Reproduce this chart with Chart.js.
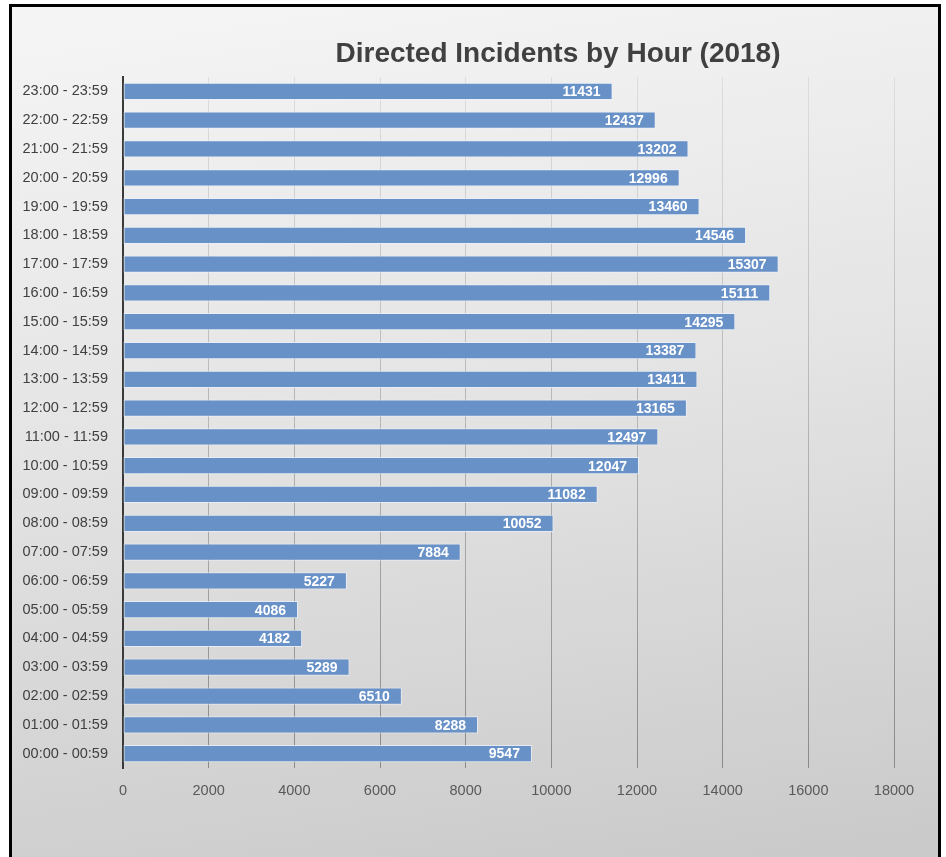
<!DOCTYPE html>
<html>
<head>
<meta charset="utf-8">
<title>Directed Incidents by Hour (2018)</title>
<script src="https://cdn.jsdelivr.net/npm/chart.js@4.4.1/dist/chart.umd.min.js"></script>
<style>
  html, body { margin: 0; padding: 0; overflow: hidden; background: #fff; }
  #frame {
    position: absolute; left: 9px; top: 4px; width: 932px; height: 880px;
    box-sizing: border-box; border: 3px solid #000;
    background: linear-gradient(172deg, #f5f5f5 0%, #e4e4e4 45%, #c8c8c8 100%);
  }
  #wrap { position: absolute; left: 0; top: 0; width: 946px; height: 857px; }
</style>
</head>
<body>
<div id="frame"></div>
<div id="wrap"><canvas id="chart" role="img" aria-label="Directed Incidents by Hour (2018)"></canvas></div>
<script>
const hours = [
  '00:00 - 00:59', '01:00 - 01:59', '02:00 - 02:59', '03:00 - 03:59',
  '04:00 - 04:59', '05:00 - 05:59', '06:00 - 06:59', '07:00 - 07:59',
  '08:00 - 08:59', '09:00 - 09:59', '10:00 - 10:59', '11:00 - 11:59',
  '12:00 - 12:59', '13:00 - 13:59', '14:00 - 14:59', '15:00 - 15:59',
  '16:00 - 16:59', '17:00 - 17:59', '18:00 - 18:59', '19:00 - 19:59',
  '20:00 - 20:59', '21:00 - 21:59', '22:00 - 22:59', '23:00 - 23:59'
];
const incidents = [
  9547, 8288, 6510, 5289, 4182, 4086, 5227, 7884,
  10052, 11082, 12047, 12497, 13165, 13411, 13387, 14295,
  15111, 15307, 14546, 13460, 12996, 13202, 12437, 11431
];
const xTicks = [0, 2000, 4000, 6000, 8000, 10000, 12000, 14000, 16000, 18000];
const chartTitle = 'Directed Incidents by Hour (2018)';

const FONT = '"Liberation Sans", Arial, sans-serif';

// white value labels at the inner end of each bar
const barLabels = {
  id: 'barLabels',
  afterDatasetsDraw(chart) {
    const { ctx } = chart;
    const meta = chart.getDatasetMeta(0);
    ctx.save();
    ctx.font = 'bold 14px ' + FONT;
    ctx.fillStyle = '#ffffff';
    ctx.textAlign = 'right';
    ctx.textBaseline = 'middle';
    meta.data.forEach((bar, i) => {
      ctx.fillText(String(chart.data.datasets[0].data[i]), bar.x - 12, bar.y + 1);
    });
    ctx.restore();
  }
};

const titlePlugin = {
  id: 'customTitle',
  afterDraw(chart) {
    const { ctx } = chart;
    ctx.save();
    ctx.font = 'bold 28px ' + FONT;
    ctx.fillStyle = '#404040';
    ctx.textAlign = 'center';
    ctx.textBaseline = 'alphabetic';
    ctx.fillText(chartTitle, 558, 62);
    ctx.restore();
  }
};

function gridGradient(context) {
  const chart = context.chart;
  const area = chart.chartArea;
  if (!area) return '#b0b0b0';
  const g = chart.ctx.createLinearGradient(0, area.top, 0, area.bottom);
  g.addColorStop(0, '#dedede');
  g.addColorStop(1, '#8a8a8a');
  return g;
}

new Chart(document.getElementById('chart'), {
  type: 'bar',
  data: {
    labels: hours,
    datasets: [{
      label: 'Incidents',
      data: incidents,
      backgroundColor: '#6891c8',
      borderColor: 'rgba(235,242,252,0.75)',
      borderWidth: 1,
      borderSkipped: false,
      barPercentage: 0.6,
      categoryPercentage: 1
    }]
  },
  options: {
    indexAxis: 'y',
    responsive: true,
    maintainAspectRatio: false,
    animation: false,
    layout: { padding: { left: 0, right: 52, top: 77, bottom: 0 } },
    plugins: {
      legend: { display: false },
      title: { display: false },
      tooltip: { enabled: false }
    },
    scales: {
      x: {
        min: 0,
        max: 18000,
        afterBuildTicks(scale) { scale.ticks = xTicks.map(v => ({ value: v })); },
        afterFit(scale) { scale.height = 89; },
        ticks: {
          color: '#595959',
          font: { family: FONT, size: 14.5 },
          padding: 14,
          callback: v => String(v)
        },
        grid: { color: gridGradient, lineWidth: 1, drawTicks: false },
        border: { display: false }
      },
      y: {
        reverse: true,
        afterFit(scale) { scale.width = 123; },
        ticks: { color: '#404040', font: { family: FONT, size: 14.5 }, padding: 15, autoSkip: false },
        grid: { display: false, drawTicks: false },
        border: { display: true, color: '#3a3a3a', width: 2 }
      }
    }
  },
  plugins: [barLabels, titlePlugin]
});
</script>
</body>
</html>
